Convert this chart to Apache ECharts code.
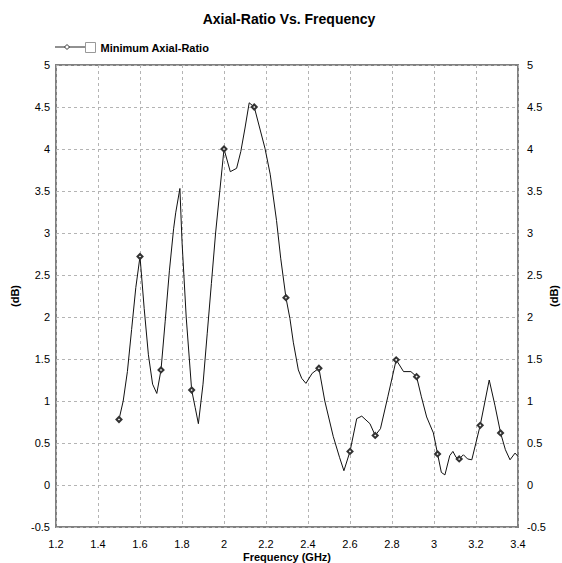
<!DOCTYPE html>
<html>
<head>
<meta charset="utf-8">
<script src="https://cdn.jsdelivr.net/npm/echarts@6/dist/echarts.min.js"></script>
<style>
html,body{margin:0;padding:0;background:#fff;overflow:hidden;}
#chart{width:562px;height:563px;display:block;}
</style>
</head>
<body>
<div id="chart"></div>
<script>
// Frequency (GHz)
var freq = [1.50,1.52,1.54,1.56,1.58,1.60,1.62,1.64,1.66,1.68,1.70,1.72,1.74,1.76,1.77,1.79,1.80,1.82,1.846,1.863,1.878,1.90,1.92,1.94,1.96,1.98,2.00,2.03,2.06,2.08,2.10,2.12,2.144,2.17,2.195,2.22,2.25,2.27,2.295,2.314,2.33,2.354,2.37,2.39,2.42,2.452,2.48,2.52,2.55,2.571,2.60,2.632,2.656,2.695,2.72,2.745,2.78,2.82,2.855,2.89,2.917,2.94,2.965,2.997,3.017,3.035,3.052,3.075,3.09,3.105,3.12,3.14,3.16,3.18,3.22,3.263,3.29,3.317,3.34,3.362,3.386,3.40];
// Minimum Axial-Ratio (dB)
var axialRatio = [0.78,1.00,1.35,1.85,2.35,2.72,2.10,1.55,1.20,1.09,1.37,1.95,2.55,3.05,3.24,3.53,2.90,2.00,1.13,0.92,0.73,1.20,1.80,2.40,3.00,3.50,4.00,3.73,3.77,3.97,4.25,4.55,4.50,4.25,4.01,3.70,3.15,2.70,2.23,1.98,1.70,1.37,1.27,1.21,1.33,1.39,1.00,0.58,0.33,0.17,0.40,0.79,0.82,0.73,0.59,0.67,1.05,1.49,1.35,1.35,1.29,1.05,0.81,0.62,0.37,0.15,0.12,0.35,0.40,0.33,0.31,0.36,0.31,0.30,0.71,1.25,0.95,0.62,0.42,0.30,0.38,0.34];
// Frequencies carrying a diamond marker
var markerFreq = [1.50,1.60,1.70,1.846,2.00,2.144,2.295,2.452,2.60,2.72,2.82,2.917,3.017,3.12,3.22,3.317];
// Axis ticks
var xMin = 1.2, xMax = 3.4, xStep = 0.2;
var yMin = -0.5, yMax = 5, yStep = 0.5;

var seriesName = 'Minimum Axial-Ratio';
var data = freq.map(function(f, i){ return [f, axialRatio[i]]; });

var chart = echarts.init(document.getElementById('chart'), null, {renderer:'svg'});
var font = 'Arial, "Liberation Sans", sans-serif';
var gridLine = {show:true, lineStyle:{color:'#b4b4b4', type:[3,3], width:1}};
var lbl = {color:'#000', fontFamily:font, fontSize:11};
var nameSty = {color:'#000', fontFamily:font, fontSize:11, fontWeight:'bold'};

chart.setOption({
  animation:false,
  backgroundColor:'#fff',
  title:{
    text:'Axial-Ratio Vs. Frequency',
    left:284, textAlign:'center', top:7,
    textStyle:{fontFamily:font, fontSize:14, fontWeight:'bold', color:'#000'}
  },
  legend:{
    data:[seriesName],
    left:80, top:37,
    icon:'rect', itemWidth:10, itemHeight:10, itemGap:5,
    itemStyle:{color:'#fff', borderColor:'#999', borderWidth:1},
    textStyle:{fontFamily:font, fontSize:11, fontWeight:'bold', color:'#000'},
    selectedMode:false
  },
  graphic:[
    {type:'line', shape:{x1:55, y1:47, x2:85, y2:47}, style:{stroke:'#222', lineWidth:1}},
    {type:'polygon', shape:{points:[[67,44.5],[69.5,47],[67,49.5],[64.5,47]]}, style:{fill:'#fff', stroke:'#333', lineWidth:1}}
  ],
  grid:{left:56, right:44, top:65, bottom:36, show:true, borderColor:'#808080', borderWidth:2, backgroundColor:'#fff', outerBoundsMode:'none', containLabel:false},
  xAxis:{
    type:'value', min:xMin, max:xMax, interval:xStep,
    name:'Frequency (GHz)', nameLocation:'middle', nameGap:24, nameMoveOverlap:false, nameTextStyle:nameSty,
    axisLine:{show:false}, axisTick:{show:false},
    axisLabel:Object.assign({margin:11}, lbl),
    splitLine:gridLine
  },
  yAxis:[
    {
      type:'value', min:yMin, max:yMax, interval:yStep, position:'left',
      name:'(dB)', nameLocation:'middle', nameGap:36, nameRotate:90, nameMoveOverlap:false, nameTextStyle:nameSty,
      axisLine:{show:false}, axisTick:{show:false},
      axisLabel:Object.assign({margin:6}, lbl),
      splitLine:gridLine
    },
    {
      type:'value', min:yMin, max:yMax, interval:yStep, position:'right',
      name:'(dB)', nameLocation:'middle', nameGap:30, nameRotate:90, nameMoveOverlap:false, nameTextStyle:nameSty,
      axisLine:{show:false}, axisTick:{show:false},
      axisLabel:Object.assign({margin:9}, lbl),
      splitLine:{show:false}
    }
  ],
  series:[{
    name:seriesName,
    type:'line',
    yAxisIndex:0,
    data:data,
    showSymbol:true,
    symbol:function(val){ return markerFreq.indexOf(val[0]) >= 0 ? 'emptyDiamond' : 'none'; },
    symbolSize:5,
    itemStyle:{color:'#333', borderColor:'#333', borderWidth:0.8},
    lineStyle:{color:'#111', width:1},
    smooth:false
  }]
});
</script>
</body>
</html>
